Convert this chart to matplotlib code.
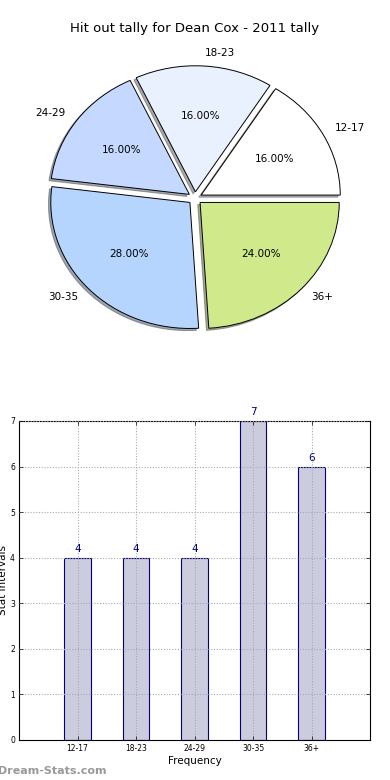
import matplotlib
matplotlib.use('Agg')
import matplotlib.pyplot as plt
import numpy as np

plt.rcParams['font.family'] = 'DejaVu Sans'

# data
labels = ['12-17', '18-23', '24-29', '30-35', '36+']
counts = [4, 4, 4, 7, 6]
pie_colors = ['#ffffff', '#eaf1fe', '#c5d8ff', '#b5d5ff', '#cfe98b']
title = 'Hit out tally for Dean Cox - 2011 tally'

fig = plt.figure(figsize=(3.9, 7.8), dpi=100)

# pie chart (top)
ax1 = fig.add_axes([0.054, 0.544, 0.892, 0.404])
wedges, texts, autotexts = ax1.pie(
    counts, labels=labels, colors=pie_colors, explode=[0.05] * len(counts),
    autopct='%.2f%%', shadow={'ox': -0.012, 'oy': -0.012, 'shade': 0.65},
    startangle=0,
    wedgeprops={'edgecolor': 'black', 'linewidth': 0.7},
    textprops={'fontsize': 7.5})
ax1.set_aspect('auto')
ax1.set_xlim(-1.25, 1.25)
ax1.set_ylim(-1.25, 1.25)
ax1.set_title(title, fontsize=9.5, pad=6)

# bar chart (bottom)
ax2 = fig.add_axes([0.049, 0.0513, 0.9, 0.409])
x = np.arange(len(labels))
bars = ax2.bar(x, counts, width=0.45, color='#ccccdf', edgecolor='#000080',
               linewidth=0.8)
for xi, c in zip(x, counts):
    ax2.text(xi, c + 0.08, str(c), ha='center', va='bottom',
             color='#000080', fontsize=7.5)
ax2.set_xlim(-1, 5)
ax2.set_ylim(0, 7)
ax2.set_xticks(x)
ax2.set_xticklabels(labels)
ax2.set_yticks(range(0, 8))
ax2.tick_params(labelsize=5.5, direction='in', top=True, right=True,
                length=3, width=0.5, pad=3)
ax2.set_axisbelow(False)
ax2.grid(True, linestyle=(0, (1, 1.5)), color='#aaaaaa', linewidth=0.8)
ax2.set_xlabel('Frequency', fontsize=7.5, labelpad=2)
for s in ax2.spines.values():
    s.set_linewidth(0.8)

# y label and watermark sit at the left edge, partly cut as in the original
fig.text(0.008, 0.256, 'Stat Intervals', rotation=90, ha='center',
         va='center', fontsize=7.5)
fig.text(-0.004, 0.012, 'Dream-Stats.com', color='#999999', fontsize=8,
         fontweight='bold', ha='left', va='center')

fig.savefig('out.png', dpi=100)
